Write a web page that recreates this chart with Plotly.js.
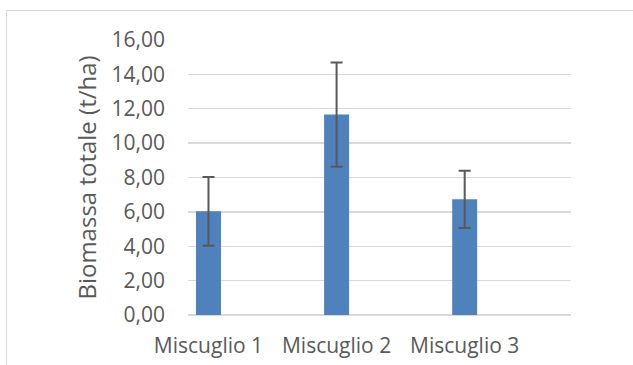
<!DOCTYPE html>
<html>
<head>
<meta charset="utf-8">
<script src="https://cdn.plot.ly/plotly-3.0.1.min.js"></script>
<style>
  html, body { margin: 0; padding: 0; background: #ffffff; }
  #wrap { position: relative; width: 633px; height: 365px; overflow: hidden; }
  #frame { position: absolute; left: 6px; top: 9.5px; width: 700px; height: 400px;
           border-left: 1.7px solid #d9d9d9; border-top: 1.7px solid #d9d9d9; }
  #chart { position: absolute; left: 0; top: 0; width: 633px; height: 365px; }
</style>
</head>
<body>
<div id="wrap">
  <div id="frame"></div>
  <div id="chart"></div>
</div>
<script>
// Data
const categories = ['Miscuglio 1', 'Miscuglio 2', 'Miscuglio 3'];
const biomassa = [6.03, 11.66, 6.73];
const errore = [2.00, 3.03, 1.67];
const yTickValues = [0, 2, 4, 6, 8, 10, 12, 14, 16];
const yTickLabels = ['0,00', '2,00', '4,00', '6,00', '8,00', '10,00', '12,00', '14,00', '16,00'];

const textColor = '#595959';
const fontFamily = '"Open Sans", "Noto Sans", sans-serif';

const trace = {
  type: 'bar',
  x: categories,
  y: biomassa,
  width: 0.195,
  marker: { color: '#4f81bd', line: { width: 0 } },
  error_y: {
    type: 'data',
    array: errore,
    visible: true,
    color: '#595959',
    thickness: 2,
    width: 6
  },
  hoverinfo: 'skip'
};

const layout = {
  width: 633,
  height: 365,
  margin: { l: 188, r: 62, t: 40, b: 50, pad: 0 },
  paper_bgcolor: 'rgba(0,0,0,0)',
  plot_bgcolor: 'rgba(0,0,0,0)',
  showlegend: false,
  font: { family: fontFamily, color: textColor, size: 21 },
  xaxis: {
    type: 'category',
    range: [-0.16, 2.83],
    showgrid: false,
    showline: false,
    zeroline: false,
    ticks: '',
    ticklabelstandoff: 16,
    tickfont: { family: fontFamily, size: 21, color: textColor },
    automargin: false
  },
  yaxis: {
    range: [0, 16],
    tickvals: yTickValues,
    ticktext: yTickLabels,
    showgrid: true,
    gridcolor: '#d9d9d9',
    gridwidth: 1.3,
    zeroline: true,
    zerolinecolor: '#d9d9d9',
    zerolinewidth: 1.3,
    showline: false,
    ticks: '',
    ticklabelstandoff: 22,
    tickfont: { family: fontFamily, size: 21, color: textColor },
    automargin: false,
    title: {
      text: 'Biomassa totale (t/ha)',
      font: { family: fontFamily, size: 24, color: textColor },
      standoff: 8
    }
  }
};

Plotly.newPlot('chart', [trace], layout, { displayModeBar: false, staticPlot: true });
</script>
</body>
</html>
